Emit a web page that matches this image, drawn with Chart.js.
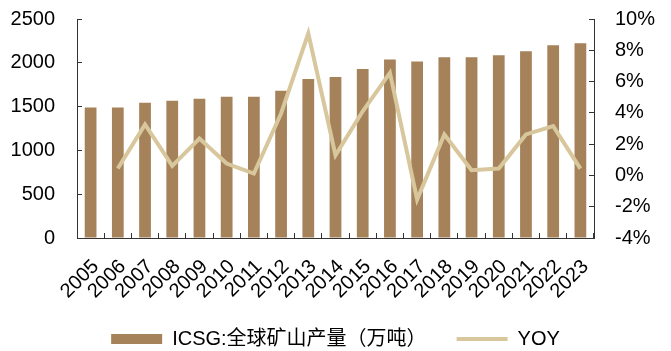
<!DOCTYPE html>
<html>
<head>
<meta charset="utf-8">
<script src="https://cdn.jsdelivr.net/npm/chart.js@4/dist/chart.umd.min.js"></script>
<style>
    html, body { margin: 0; padding: 0; background: #fff; }
    #wrap { width: 671px; height: 351px; position: relative; }
</style>
</head>
<body>
<div id="wrap"><canvas id="mineChart"></canvas></div>
<script>
// ICSG global mine output (10k t) and year-on-year change (%)
const years = ['2005', '2006', '2007', '2008', '2009', '2010', '2011', '2012', '2013', '2014',
    '2015', '2016', '2017', '2018', '2019', '2020', '2021', '2022', '2023'];
const mineOutput = [1490, 1490, 1543, 1566, 1589, 1612, 1612, 1680, 1814, 1837,
    1928, 2039, 2016, 2062, 2062, 2085, 2131, 2199, 2222];
const yoy = [null, 0.44, 3.26, 0.61, 2.36, 0.76, 0.12, 3.96, 9.08, 1.29,
    4.1, 6.56, -1.54, 2.62, 0.33, 0.44, 2.62, 3.15, 0.44];

const barLabel = 'ICSG:全球矿山产量（万吨）';
const lineLabel = 'YOY';

const barColor = '#a5825a';
const lineColor = '#d8c79c';
const fontFamily = '"Liberation Sans", Arial, "Noto Sans CJK SC", sans-serif';
const tickFont = { family: fontFamily, size: 20 };
const legendShift = 8;   // legend sits a bit lower than chart.js would put it

// fixed side widths, and no extra vertical padding from the tick padding
function fixSideAxis(scale) {
    scale.width = 77;
    scale.paddingTop = 0;
    scale.paddingBottom = 0;
}

var ctx = document.getElementById('mineChart').getContext('2d');

var mineChart = new Chart(ctx, {
    type: 'bar',
    data: {
        labels: years,
        datasets: [{
            label: barLabel,
            data: mineOutput,
            backgroundColor: barColor,
            borderWidth: 0,
            categoryPercentage: 0.9,
            barPercentage: 0.48,
            yAxisID: 'y',
            order: 2
        }, {
            type: 'line',
            label: lineLabel,
            data: yoy,
            borderColor: lineColor,
            backgroundColor: lineColor,
            borderWidth: 4,
            pointRadius: 0,
            tension: 0,
            yAxisID: 'y1',
            order: 1
        }]
    },
    options: {
        responsive: true,
        maintainAspectRatio: false,
        animation: false,
        layout: {
            padding: { top: 19, left: 0, right: 0, bottom: -legendShift }
        },
        plugins: {
            tooltip: { enabled: false },
            legend: {
                position: 'bottom',
                labels: {
                    usePointStyle: true,
                    pointStyleWidth: 51,
                    boxHeight: 10,
                    padding: 30,
                    color: '#000',
                    font: { family: fontFamily, size: 20 },
                    sort: function (a, b) {
                        return a.datasetIndex - b.datasetIndex;
                    },
                    generateLabels: function (chart) {
                        const items = Chart.defaults.plugins.legend.labels.generateLabels(chart);
                        items.forEach(function (item) {
                            if (item.datasetIndex === 0) {
                                item.pointStyle = 'rect';
                                item.lineWidth = 0;
                            } else {
                                item.pointStyle = 'line';
                                item.lineWidth = 4;
                                item.strokeStyle = lineColor;
                            }
                        });
                        return items;
                    }
                }
            }
        },
        scales: {
            x: {
                offset: true,
                grid: {
                    offset: true,
                    drawOnChartArea: false,
                    tickLength: -5,
                    color: '#333'
                },
                border: { color: '#333', width: 1 },
                ticks: {
                    color: '#000',
                    font: tickFont,
                    autoSkip: false,
                    minRotation: 45,
                    maxRotation: 45,
                    padding: 22,
                    labelOffset: 5
                },
                afterFit: function (scale) {
                    scale.height = 351 - 238 - scale.chart.legend.height + legendShift;
                }
            },
            y: {
                position: 'left',
                min: 0,
                max: 2500,
                grid: {
                    drawOnChartArea: false,
                    tickLength: -5,
                    color: '#333'
                },
                border: { color: '#333', width: 1 },
                ticks: {
                    stepSize: 500,
                    color: '#000',
                    font: tickFont,
                    padding: 27,
                    callback: function (value) {
                        return String(value);
                    }
                },
                afterFit: fixSideAxis
            },
            y1: {
                position: 'right',
                min: -4,
                max: 10,
                grid: {
                    drawOnChartArea: false,
                    tickLength: -5,
                    color: '#333'
                },
                border: { color: '#333', width: 1 },
                ticks: {
                    stepSize: 2,
                    color: '#000',
                    font: tickFont,
                    padding: 26,
                    callback: function (value) {
                        return value + '%';
                    }
                },
                afterFit: fixSideAxis
            }
        }
    }
});
</script>
</body>
</html>
